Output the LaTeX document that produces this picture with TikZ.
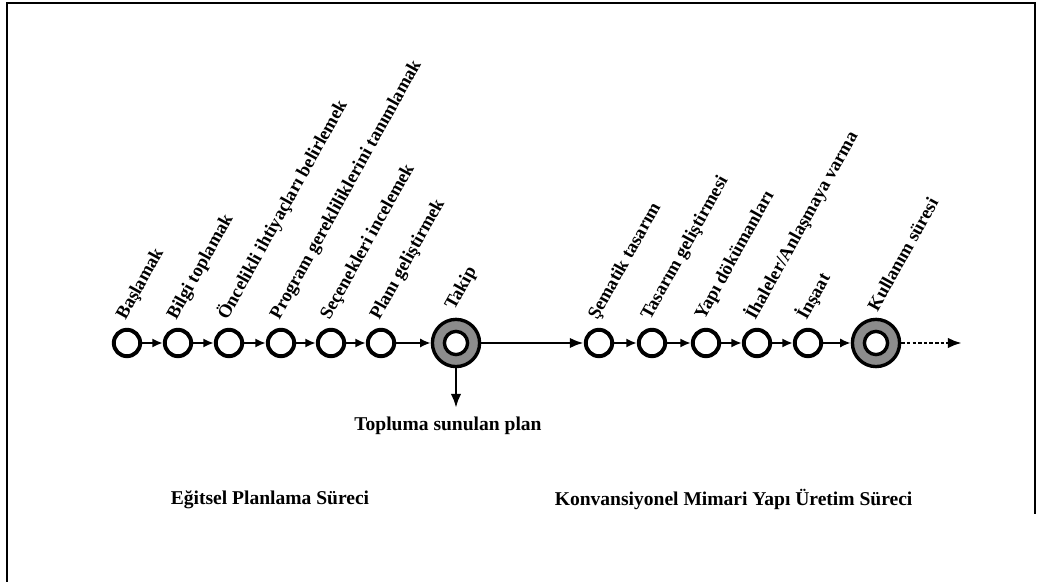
\documentclass[tikz,border=0pt]{standalone}
\usepackage{fontspec}
\setmainfont{Liberation Serif}
\usetikzlibrary{arrows.meta, positioning}

\begin{document}
\begin{tikzpicture}[
  stage/.style={circle, draw=black, line width=2.8pt, fill=white,
    minimum size=0.66cm, inner sep=0pt},
  hub/.style={circle, draw=black, line width=2.4pt, fill=black!45,
    minimum size=1.18cm, inner sep=0pt,
    path picture={\draw[line width=2.4pt, fill=white]
      (path picture bounding box.center) circle (0.29cm);}},
  tag/.style={rotate=61, anchor=south west, inner sep=0pt,
    font=\fontsize{13.2}{15}\selectfont\bfseries},
  caption/.style={font=\fontsize{13.9}{16}\selectfont\bfseries},
  link/.style={-{Latex[length=7.5pt, width=6.5pt]}, line width=1.5pt},
  flow/.style={-{Latex[length=10pt, width=7.5pt]}, line width=2pt}
]
  \useasboundingbox (0,0) rectangle (26,14.55);
  % page frame
  \draw[line width=1.4pt] (0.175,0) -- (0.175,14.475) -- (25.875,14.475) -- (25.875,1.7);

  % planning stages
  \node[stage] (p1) at (3.175,5.975) {};
  \node[stage] (p2) at (4.45,5.975) {};
  \node[stage] (p3) at (5.725,5.975) {};
  \node[stage] (p4) at (7.025,5.975) {};
  \node[stage] (p5) at (8.275,5.975) {};
  \node[stage] (p6) at (9.525,5.975) {};
  \node[hub] (tk) at (11.4,5.975) {};

  % building stages
  \node[stage] (b1) at (14.975,5.975) {};
  \node[stage] (b2) at (16.3,5.975) {};
  \node[stage] (b3) at (17.65,5.975) {};
  \node[stage] (b4) at (18.925,5.975) {};
  \node[stage] (b5) at (20.2,5.975) {};
  \node[hub] (ku) at (21.9,5.975) {};
  \coordinate (out) at (11.4,4.35);
  \coordinate (end) at (24.05,5.975);

  % slanted labels
  \node[tag, above right=1.2mm and 0.5mm of p1.north] (lp1) {Başlamak};
  \node[tag, above right=1.2mm and 0.5mm of p2.north] (lp2) {Bilgi toplamak};
  \node[tag, above right=1.2mm and 0.5mm of p3.north] (lp3) {Öncelikli ihtiyaçları belirlemek};
  \node[tag, above right=1.2mm and 0.5mm of p4.north] (lp4) {Program gerekliliklerini tanımlamak};
  \node[tag, above right=1.2mm and 0.5mm of p5.north] (lp5) {Seçenekleri incelemek};
  \node[tag, above right=1.2mm and 0.5mm of p6.north] (lp6) {Planı geliştirmek};
  \node[tag, above right=1.2mm and 0.5mm of tk.north] (ltk) {Takip};
  \node[tag, above right=1.2mm and 0.5mm of b1.north] (lb1) {Şematik tasarım};
  \node[tag, above right=1.2mm and 0.5mm of b2.north] (lb2) {Tasarım geliştirmesi};
  \node[tag, above right=1.2mm and 0.5mm of b3.north] (lb3) {Yapı dökümanları};
  \node[tag, above right=1.2mm and 0.5mm of b4.north] (lb4) {İhaleler/Anlaşmaya varma};
  \node[tag, above right=1.2mm and 0.5mm of b5.north] (lb5) {İnşaat};
  \node[tag, above right=1.2mm and 0.5mm of ku.north] (lku) {Kullanım süresi};

  \node[caption] (plan) at (11.2,3.9) {Topluma sunulan plan};
  \node[caption] (edu) at (6.75,2.05) {Eğitsel Planlama Süreci};
  \node[caption] (conv) at (18.34,2.06) {Konvansiyonel Mimari Yapı Üretim Süreci};

  \draw[link] (p1) -- (p2);
  \draw[link] (p2) -- (p3);
  \draw[link] (p3) -- (p4);
  \draw[link] (p4) -- (p5);
  \draw[link] (p5) -- (p6);
  \draw[link] (p6) -- (tk);
  \draw[flow] (tk) -- (b1);
  \draw[flow] (tk) -- (out);
  \draw[link] (b1) -- (b2);
  \draw[link] (b2) -- (b3);
  \draw[link] (b3) -- (b4);
  \draw[link] (b4) -- (b5);
  \draw[link] (b5) -- (ku);
  \draw[flow, dash pattern=on 2.5pt off 1.5pt] (ku) -- (end);
\end{tikzpicture}
\end{document}
